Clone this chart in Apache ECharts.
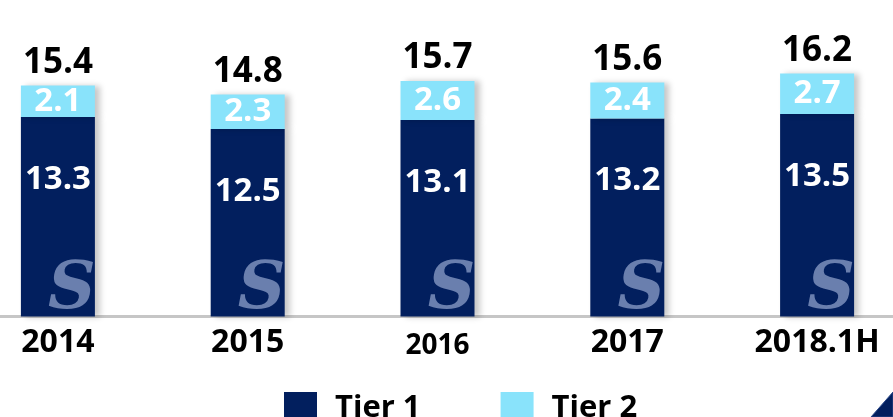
<!DOCTYPE html>
<html>
<head>
<meta charset="utf-8">
<style>
  html, body { margin: 0; padding: 0; background: #ffffff; }
  #chart { width: 893px; height: 417px; }
</style>
<script src="https://cdn.jsdelivr.net/npm/echarts@6/dist/echarts.min.js"></script>
</head>
<body>
<div id="chart"></div>
<script>
// Capital composition by year (Tier 1 / Tier 2), stacked
const categories = ['2014', '2015', '2016', '2017', '2018.1H'];
const tier1 = [13.3, 12.5, 13.1, 13.2, 13.5];
const tier2 = [2.1, 2.3, 2.6, 2.4, 2.7];
const totals = tier1.map((v, i) => +(v + tier2[i]).toFixed(1));

const NAVY = '#021f5e';
const CYAN = '#89e3fb';
const FONT = '"Open Sans", "Noto Sans", sans-serif';
const barShadow = {
  shadowColor: 'rgba(0,0,0,0.22)',
  shadowBlur: 6,
  shadowOffsetX: 5,
  shadowOffsetY: 0
};

const chart = echarts.init(document.getElementById('chart'), null, { renderer: 'canvas' });

chart.setOption({
  animation: false,
  backgroundColor: '#ffffff',
  textStyle: { fontFamily: FONT },
  grid: {
    left: -37, right: -19, top: 16.5, bottom: 100.5,
    containLabel: false,
    outerBoundsMode: 'none'
  },
  legend: {
    data: ['Tier 1', 'Tier 2'],
    left: 284,
    top: 392,
    icon: 'rect',
    itemWidth: 33,
    itemHeight: 33,
    itemGap: 80,
    padding: 0,
    itemStyle: { shadowBlur: 0, shadowOffsetX: 0 },
    textStyle: {
      fontFamily: FONT,
      fontSize: 31,
      fontWeight: 'bold',
      color: '#000000',
      padding: [0, 0, 0, 13]
    }
  },
  xAxis: {
    type: 'category',
    data: categories.map(c => c === '2016'
      ? { value: c, textStyle: { fontSize: 28, padding: [6, 0, 0, 0] } }
      : c),
    axisLine: { lineStyle: { color: '#c6c6c6', width: 3 } },
    axisTick: { show: false },
    axisLabel: {
      fontFamily: FONT,
      fontSize: 32,
      fontWeight: 'bold',
      color: '#000000',
      margin: 10
    }
  },
  yAxis: {
    type: 'value',
    min: 0,
    max: 20,
    show: false,
    splitLine: { show: false }
  },
  series: [
    {
      name: 'Tier 1',
      type: 'bar',
      stack: 'capital',
      barWidth: 74,
      data: tier1,
      itemStyle: Object.assign({ color: NAVY }, barShadow),
      label: {
        show: true,
        position: 'insideTop',
        distance: 46,
        fontFamily: FONT,
        fontSize: 33,
        fontWeight: 'bold',
        color: '#ffffff'
      },
      z: 2
    },
    {
      name: 'Tier 2',
      type: 'bar',
      stack: 'capital',
      barWidth: 74,
      data: tier2,
      itemStyle: Object.assign({ color: CYAN }, barShadow),
      label: {
        show: true,
        position: 'inside',
        fontFamily: FONT,
        fontSize: 33,
        fontWeight: 'bold',
        color: '#ffffff'
      },
      z: 2
    },
    {
      // totals printed above each stack
      name: 'Total',
      type: 'scatter',
      data: totals,
      symbolSize: 0,
      silent: true,
      itemStyle: { opacity: 1 },
      label: {
        show: true,
        position: 'top',
        distance: 5,
        formatter: p => p.value.toFixed(1),
        fontFamily: FONT,
        fontSize: 35,
        fontWeight: 'bold',
        color: '#000000'
      },
      z: 3
    },
    {
      // company emblem watermark near the foot of each bar
      name: 'emblem',
      type: 'scatter',
      data: categories.map(c => [c, 0]),
      symbolSize: 0,
      silent: true,
      itemStyle: { opacity: 1 },
      label: {
        show: true,
        position: 'top',
        offset: [14, 12],
        formatter: 'S',
        fontFamily: '"DejaVu Serif", serif',
        fontStyle: 'italic',
        fontWeight: 'bold',
        fontSize: 66,
        color: '#6a7fae'
      },
      z: 4
    }
  ],
  graphic: [
    {
      type: 'polygon',
      shape: { points: [[871, 417], [893, 392], [893, 417]] },
      style: { fill: NAVY, stroke: '#2c4a8a', lineWidth: 1 },
      z: 10
    }
  ]
});
</script>
</body>
</html>
